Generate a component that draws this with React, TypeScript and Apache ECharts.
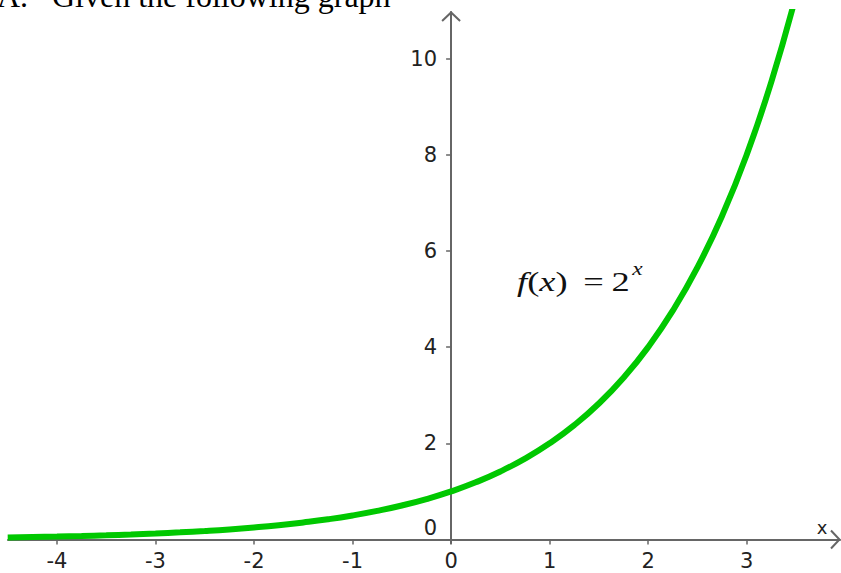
import React, { useEffect, useRef } from "react";
import * as echarts from "echarts";

// Sampled points of the plotted curve f(x) = 2^x
const X_VALUES = [
  -4.5, -4.25, -4, -3.75, -3.5, -3.25, -3, -2.75, -2.5, -2.25, -2, -1.75, -1.5,
  -1.25, -1, -0.75, -0.5, -0.25, 0, 0.25, 0.5, 0.75, 1, 1.25, 1.5, 1.75, 2, 2.25,
  2.5, 2.75, 3, 3.25, 3.5,
];
const Y_VALUES = [
  0.044, 0.053, 0.0625, 0.074, 0.088, 0.105, 0.125, 0.149, 0.177, 0.21, 0.25,
  0.297, 0.354, 0.42, 0.5, 0.595, 0.707, 0.841, 1, 1.189, 1.414, 1.682, 2, 2.378,
  2.828, 3.364, 4, 4.757, 5.657, 6.727, 8, 9.514, 11.31,
];

const X_TICKS = [-4, -3, -2, -1, 0, 1, 2, 3];
const Y_TICKS = [0, 2, 4, 6, 8, 10];
const X_RANGE = [-4.497, 3.947];
const Y_RANGE = [-0.08, 10.967];

// Where the function's label sits, in data coordinates
const FORMULA_AT = [0.67, 5.37];

const HEADING_MARK = "A.";
const HEADING_TEXT = "Given the following graph";

const AXIS_COLOR = "#666666";
const LABEL_COLOR = "#222222";
const CURVE_COLOR = "#00c800";
const SANS = "DejaVu Sans";
const SERIF = "Liberation Serif";
const TICK_FONT = 21;

const GRID = { left: 8, right: 1, top: 12, bottom: 29.65 };

export default function App() {
  const ref = useRef<HTMLDivElement>(null);

  useEffect(() => {
    if (!ref.current) return;
    const el = ref.current;
    const chart = echarts.init(el, null, { renderer: "svg" });

    // Both axes cross at the origin: shift each one from the grid edge to
    // the zero of the other axis.
    const gridW = el.clientWidth - GRID.left - GRID.right;
    const gridH = el.clientHeight - GRID.top - GRID.bottom;
    const yAxisShift =
      -((0 - X_RANGE[0]) / (X_RANGE[1] - X_RANGE[0])) * gridW;
    const xAxisShift =
      -((0 - Y_RANGE[0]) / (Y_RANGE[1] - Y_RANGE[0])) * gridH;

    chart.setOption({
      animation: false,
      backgroundColor: "#ffffff",
      grid: {
        ...GRID,
        containLabel: false,
        outerBoundsMode: "none",
      },
      xAxis: {
        type: "value",
        min: X_RANGE[0],
        max: X_RANGE[1],
        position: "bottom",
        offset: xAxisShift,
        axisLine: { onZero: false, lineStyle: { color: AXIS_COLOR, width: 2 } },
        axisTick: {
          show: true,
          length: 5,
          customValues: X_TICKS,
          lineStyle: { color: AXIS_COLOR, width: 1.5 },
        },
        axisLabel: {
          customValues: X_TICKS,
          margin: 11,
          fontFamily: SANS,
          fontSize: TICK_FONT,
          color: LABEL_COLOR,
        },
        splitLine: { show: false },
        name: "x",
        nameLocation: "end",
        nameGap: -18,
        nameTextStyle: {
          fontFamily: SANS,
          fontSize: 18,
          color: LABEL_COLOR,
          align: "center",
          verticalAlign: "bottom",
          padding: [0, 0, 3, 0],
        },
      },
      yAxis: {
        type: "value",
        min: Y_RANGE[0],
        max: Y_RANGE[1],
        position: "left",
        offset: yAxisShift,
        axisLine: { onZero: false, lineStyle: { color: AXIS_COLOR, width: 2 } },
        axisTick: {
          show: true,
          length: 5,
          customValues: Y_TICKS,
          lineStyle: { color: AXIS_COLOR, width: 1.5 },
        },
        axisLabel: {
          customValues: Y_TICKS,
          margin: 14,
          fontFamily: SANS,
          fontSize: TICK_FONT,
          color: LABEL_COLOR,
          formatter: (v: number) => (v === 0 ? "{z|0}" : String(v)),
          rich: {
            z: {
              fontFamily: SANS,
              fontSize: TICK_FONT,
              color: LABEL_COLOR,
              padding: [0, 0, 23, 0],
            },
          },
        },
        splitLine: { show: false },
      },
      series: [
        {
          type: "line",
          data: X_VALUES.map((x, i) => [x, Y_VALUES[i]]),
          smooth: true,
          showSymbol: false,
          clip: true,
          lineStyle: { color: CURVE_COLOR, width: 6 },
        },
      ],
    });

    const toPx = (p: number[]) =>
      chart.convertToPixel({ gridIndex: 0 }, p) as number[];
    const yTip = toPx([0, Y_RANGE[1]]);
    const xTip = toPx([X_RANGE[1], 0]);
    const fPos = toPx(FORMULA_AT);
    const arm = 9;

    const mathFill = "#111111";

    chart.setOption({
      graphic: [
        {
          type: "polyline",
          shape: {
            points: [
              [yTip[0] - arm, yTip[1] + arm],
              [yTip[0], yTip[1] + 0.5],
              [yTip[0] + arm, yTip[1] + arm],
            ],
          },
          style: { stroke: AXIS_COLOR, lineWidth: 2, fill: "none" },
        },
        {
          type: "polyline",
          shape: {
            points: [
              [xTip[0] - arm, xTip[1] - arm],
              [xTip[0] - 0.5, xTip[1]],
              [xTip[0] - arm, xTip[1] + arm],
            ],
          },
          style: { stroke: AXIS_COLOR, lineWidth: 2, fill: "none" },
        },
        {
          type: "text",
          x: -3,
          y: -4,
          style: {
            text: HEADING_MARK,
            fontFamily: SERIF,
            fontSize: 32,
            fill: "#000000",
            verticalAlign: "middle",
            align: "left",
          },
        },
        {
          type: "text",
          x: 52,
          y: -4,
          style: {
            text: HEADING_TEXT,
            fontFamily: SERIF,
            fontSize: 32,
            fill: "#000000",
            verticalAlign: "middle",
            align: "left",
          },
        },
        {
          type: "text",
          x: fPos[0],
          y: fPos[1],
          scaleX: 1.3,
          style: {
            text: "{i|f}{n|(}{i|x}{n|)}{e|=}{n|2}{s|x}",
            verticalAlign: "middle",
            align: "left",
            rich: {
              i: {
                fontFamily: SERIF,
                fontStyle: "italic",
                fontSize: 28,
                fill: mathFill,
              },
              n: { fontFamily: SERIF, fontSize: 28, fill: mathFill },
              e: {
                fontFamily: SERIF,
                fontSize: 28,
                fill: mathFill,
                padding: [0, 6, 0, 12],
              },
              s: {
                fontFamily: SERIF,
                fontStyle: "italic",
                fontSize: 18,
                fill: mathFill,
                padding: [0, 0, 24, 2],
              },
            },
          },
        },
      ],
    });

    return () => chart.dispose();
  }, []);

  return (
    <div
      ref={ref}
      style={{ position: "absolute", left: 0, top: 0, width: 841, height: 573 }}
    />
  );
}
